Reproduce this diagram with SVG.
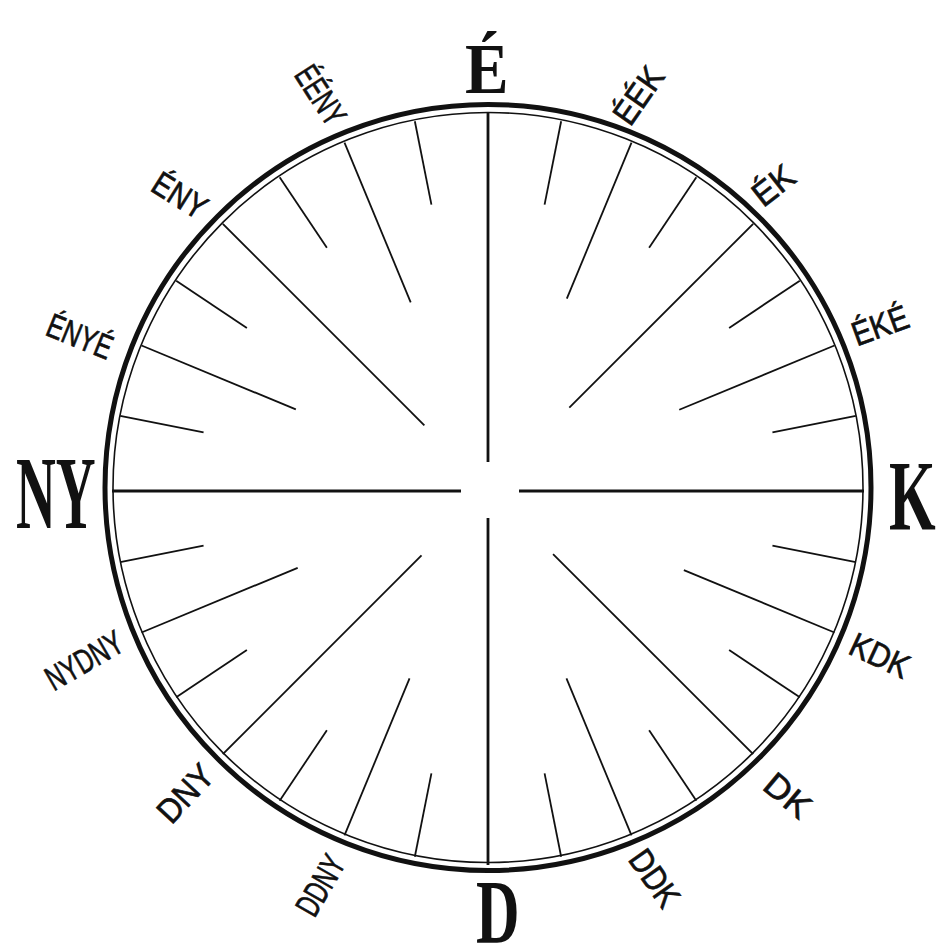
<svg xmlns="http://www.w3.org/2000/svg" width="948" height="949" viewBox="0 0 948 949">
<style>
.big{font-family:"Liberation Serif","Times New Roman",serif;font-weight:bold;fill:#111}
.sm{font-family:"Liberation Sans",Arial,sans-serif;font-size:34px;fill:#111;stroke:#111;stroke-width:0.7;text-anchor:middle}
.ax{stroke:#111;stroke-width:2.8;fill:none}
.sp{stroke:#111;stroke-width:1.8;fill:none}
</style>
<rect width="948" height="949" fill="#fff"/>
<g id="ring">
<circle cx="488" cy="487.5" r="383" fill="none" stroke="#111" stroke-width="5"/>
<circle cx="488" cy="487.5" r="375" fill="none" stroke="#111" stroke-width="1.6"/>
</g>
<g id="spokes" transform="translate(488,489)">
<g id="axes" class="ax">
<line x1="0" y1="-376" x2="0" y2="-27"/>
<line x1="0" y1="376" x2="0" y2="29"/>
<line x1="-376" y1="2" x2="-27" y2="2"/>
<line x1="376" y1="2" x2="31" y2="2"/>
</g>
<g id="diag45" class="sp">
<line x1="0" y1="-375" x2="0" y2="-115" transform="rotate(45)"/>
<line x1="0" y1="-375" x2="0" y2="-92" transform="rotate(135)"/>
<line x1="0" y1="-375" x2="0" y2="-94" transform="rotate(225)"/>
<line x1="0" y1="-375" x2="0" y2="-90" transform="rotate(315)"/>
</g>
<g id="diag22" class="sp">
<line x1="0" y1="-375" x2="0" y2="-206" transform="rotate(22.5)"/>
<line x1="0" y1="-375" x2="0" y2="-207" transform="rotate(67.5)"/>
<line x1="0" y1="-375" x2="0" y2="-212" transform="rotate(112.5)"/>
<line x1="0" y1="-375" x2="0" y2="-205" transform="rotate(157.5)"/>
<line x1="0" y1="-375" x2="0" y2="-205" transform="rotate(202.5)"/>
<line x1="0" y1="-375" x2="0" y2="-206" transform="rotate(247.5)"/>
<line x1="0" y1="-375" x2="0" y2="-208" transform="rotate(292.5)"/>
<line x1="0" y1="-375" x2="0" y2="-202" transform="rotate(337.5)"/>
</g>
<g id="diag11" class="sp">
<line x1="0" y1="-375" x2="0" y2="-290" transform="rotate(11.25)"/>
<line x1="0" y1="-375" x2="0" y2="-290" transform="rotate(33.75)"/>
<line x1="0" y1="-375" x2="0" y2="-290" transform="rotate(56.25)"/>
<line x1="0" y1="-375" x2="0" y2="-290" transform="rotate(78.75)"/>
<line x1="0" y1="-375" x2="0" y2="-290" transform="rotate(101.25)"/>
<line x1="0" y1="-375" x2="0" y2="-290" transform="rotate(123.75)"/>
<line x1="0" y1="-375" x2="0" y2="-290" transform="rotate(146.25)"/>
<line x1="0" y1="-375" x2="0" y2="-290" transform="rotate(168.75)"/>
<line x1="0" y1="-375" x2="0" y2="-290" transform="rotate(191.25)"/>
<line x1="0" y1="-375" x2="0" y2="-290" transform="rotate(213.75)"/>
<line x1="0" y1="-375" x2="0" y2="-290" transform="rotate(236.25)"/>
<line x1="0" y1="-375" x2="0" y2="-290" transform="rotate(258.75)"/>
<line x1="0" y1="-375" x2="0" y2="-290" transform="rotate(281.25)"/>
<line x1="0" y1="-375" x2="0" y2="-290" transform="rotate(303.75)"/>
<line x1="0" y1="-375" x2="0" y2="-290" transform="rotate(326.25)"/>
<line x1="0" y1="-375" x2="0" y2="-290" transform="rotate(348.75)"/>
</g>
</g>
<g id="labels-main">
<text id="lbl-E" class="big" transform="translate(465,93) scale(0.92,1)" font-size="71">É</text>
<text id="lbl-NY" class="big" transform="translate(16,528) scale(0.53,1)" font-size="104">NY</text>
<text id="lbl-K" class="big" transform="translate(889,529) scale(0.6,1)" font-size="100">K</text>
<text id="lbl-D" class="big" transform="translate(476,943) scale(0.67,1)" font-size="90">D</text>
</g>
<g id="labels-minor">
<text class="sm" transform="translate(321,95) rotate(57)" y="12.2" textLength="64" lengthAdjust="spacingAndGlyphs">ÉÉNY</text>
<text class="sm" transform="translate(180,195) rotate(32)" y="12.2" textLength="58" lengthAdjust="spacingAndGlyphs">ÉNY</text>
<text class="sm" transform="translate(80,336) rotate(22)" y="12.2" textLength="68" lengthAdjust="spacingAndGlyphs">ÉNYÉ</text>
<text class="sm" transform="translate(84,660) rotate(-30)" y="12.2" textLength="84" lengthAdjust="spacingAndGlyphs">NYDNY</text>
<text class="sm" transform="translate(185,793) rotate(-47)" y="12.2" textLength="66" lengthAdjust="spacingAndGlyphs">DNY</text>
<text class="sm" transform="translate(320,885) rotate(-60)" y="12.2" textLength="64" lengthAdjust="spacingAndGlyphs">DDNY</text>
<text class="sm" transform="translate(638,95) rotate(-55)" y="12.2" textLength="62" lengthAdjust="spacingAndGlyphs">ÉÉK</text>
<text class="sm" transform="translate(773,185) rotate(-38)" y="12.2" textLength="44" lengthAdjust="spacingAndGlyphs">ÉK</text>
<text class="sm" transform="translate(880,325) rotate(-20)" y="12.2" textLength="58" lengthAdjust="spacingAndGlyphs">ÉKÉ</text>
<text class="sm" transform="translate(880,655) rotate(25)" y="12.2" textLength="62" lengthAdjust="spacingAndGlyphs">KDK</text>
<text class="sm" transform="translate(788,795) rotate(40)" y="12.2" textLength="50" lengthAdjust="spacingAndGlyphs">DK</text>
<text class="sm" transform="translate(655,878) rotate(55)" y="12.2" textLength="62" lengthAdjust="spacingAndGlyphs">DDK</text>
</g>
</svg>
